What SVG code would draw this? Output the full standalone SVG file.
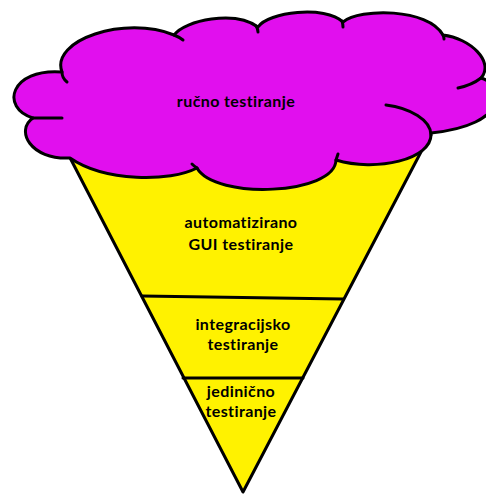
<svg xmlns="http://www.w3.org/2000/svg" width="486" height="494" viewBox="0 0 486 494">
<style>
.ol{stroke:#000;stroke-width:3;stroke-linejoin:round;stroke-linecap:round}
.tick{fill:none;stroke:#000;stroke-width:3;stroke-linecap:round}
.lbl{font-family:Lato,"Open Sans",sans-serif;font-weight:bold;font-size:16px;letter-spacing:0.4px;fill:#000;text-anchor:middle}
</style>
<rect width="486" height="494" fill="#fff"/>
<g id="cone">
<polygon class="ol" fill="#fff200" points="66,150 422,150 243,492"/>
</g>
<g id="dividers">
<path class="tick" d="M142,296 L343,299"/>
<path class="tick" d="M183,378 L303,378"/>
</g>
<g id="gui-testiranje">
<text class="lbl" x="241" y="228">automatizirano</text>
<text class="lbl" x="241" y="250">GUI testiranje</text>
</g>
<g id="integracijsko-testiranje">
<text class="lbl" x="243" y="330">integracijsko</text>
<text class="lbl" x="243" y="350">testiranje</text>
</g>
<g id="jedinicno-testiranje">
<text class="lbl" x="241" y="397">jedinično</text>
<text class="lbl" x="241" y="417">testiranje</text>
</g>
<g id="rucno-testiranje">
<path class="ol" fill="#e10fee" d="M62,72 C50,40 125,15 174,35 C185,20 235,10 258,27 C268,12 325,5 343,22 C360,8 428,8 443,35 C470,38 495,62 481,78 C505,85 510,125 431,133 C433,160 375,172 336,160 C335,195 215,200 197,168 C170,182 105,182 70,158 C30,160 15,130 33,118 C0,108 10,68 62,72 Z"/>
<path class="tick" d="M62,72 Q62,78 67,82"/>
<path class="tick" d="M174,35 Q179,37 183,40"/>
<path class="tick" d="M256,26 Q258,29 258,32"/>
<path class="tick" d="M342,21 Q343,24 343,27"/>
<path class="tick" d="M443,35 Q444,37 444,39"/>
<path class="tick" d="M481,78 Q472,85 458,88"/>
<path class="tick" d="M431,135 C431,120 410,108 386,105"/>
<path class="tick" d="M336,160 Q337,157 338,154"/>
<path class="tick" d="M197,168 Q194,166 192,164"/>
<path class="tick" d="M33,118 Q45,118 62,118"/>
<text class="lbl" x="236" y="107">ručno testiranje</text>
</g>
</svg>
